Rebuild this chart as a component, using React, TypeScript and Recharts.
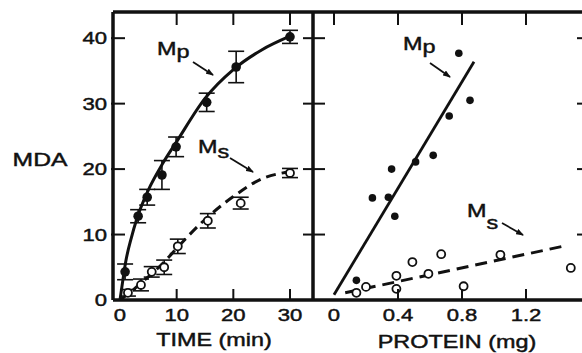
import { ComposedChart, Scatter, Line, XAxis, YAxis, ErrorBar, Label } from "recharts";

// axes
const timeTicks = [0, 10, 20, 30];
const mdaTicks = [0, 10, 20, 30, 40];
const proteinTicks = [0, 0.4, 0.8, 1.2];

// MDA vs time, Mp (filled) and Ms (open), with error bars
const mpTime = [0.9, 3.2, 4.8, 7.4, 9.9, 15.3, 20.5, 30];
const mpMda = [4.3, 12.8, 15.7, 19.1, 23.4, 30.2, 35.6, 40.2];
const mpErr = [1.2, 1.0, 1.2, 2.2, 1.5, 1.4, 2.4, 1.0];

const msTime = [1.4, 3.7, 5.6, 7.8, 10.2, 15.5, 21.3, 30];
const msMda = [1.1, 2.3, 4.3, 5.0, 8.2, 12.1, 14.8, 19.4];
const msErr = [0.5, 0.9, 0.8, 1.1, 1.1, 1.1, 0.9, 0.7];

// fitted curves
const mpFitTime = [0, 0.5, 1, 2, 3, 5, 7.5, 10, 15, 20, 25, 30];
const mpFitMda = [0, 3, 5.8, 9.5, 12.5, 16.8, 20.8, 24.2, 30.8, 35.2, 38.2, 40.3];
const msFitTime = [0, 2, 4, 6, 8, 10, 15, 20, 25, 30];
const msFitMda = [0, 1.3, 2.8, 4.3, 6.0, 7.9, 12.3, 15.8, 18.5, 19.6];

// MDA vs protein
const mpProtein = [0.14, 0.24, 0.34, 0.38, 0.36, 0.51, 0.62, 0.72, 0.78, 0.85];
const mpProteinMda = [3.0, 15.6, 15.7, 12.8, 20.0, 21.1, 22.1, 28.1, 37.7, 30.5];
const msProtein = [0.14, 0.2, 0.39, 0.39, 0.49, 0.59, 0.67, 0.81, 1.04, 1.48];
const msProteinMda = [1.1, 2.0, 3.7, 1.7, 5.8, 4.0, 7.0, 2.1, 6.9, 4.9];

const mpLineProtein = [0, 0.875];
const mpLineMda = [0.8, 36.4];
const msLineProtein = [0.07, 1.43];
const msLineMda = [1.1, 8.2];

const pts = (xs: number[], ys: number[], errs?: number[]) =>
  xs.map((x, i) => (errs ? { x, y: ys[i], err: errs[i] } : { x, y: ys[i] }));

const INK = "#111";
const FONT = "'Liberation Sans', Arial, sans-serif";
const STRETCH = 1.3; // scanned lettering is wider than Arial

function Stretched({ x, y, anchor = "middle", size = 17, children }: any) {
  return (
    <text
      transform={`translate(${x},${y}) scale(${STRETCH},1)`}
      textAnchor={anchor}
      fontSize={size}
      fontFamily={FONT}
      fill={INK}
      stroke={INK}
      strokeWidth={0.45}
    >
      {children}
    </text>
  );
}

const bottomTick = ({ x, y, payload }: any) => (
  <g>
    {payload.value !== 0 && <line x1={x} y1={y} x2={x} y2={y - 11} stroke={INK} strokeWidth={2} />}
    <Stretched x={x} y={y + 21}>{String(payload.value)}</Stretched>
  </g>
);

const topTick = (skipZero: boolean) => ({ x, y, payload }: any) =>
  skipZero && payload.value === 0 ? <g /> : (
    <line x1={x} y1={y} x2={x} y2={y + 13} stroke={INK} strokeWidth={2} />
  );

const leftTick = ({ x, y, payload }: any) => (
  <g>
    {payload.value !== 0 && <line x1={x - 2} y1={y} x2={x + 12} y2={y} stroke={INK} strokeWidth={2} />}
    <Stretched x={x - 6} y={y + 6} anchor="end">{String(payload.value)}</Stretched>
  </g>
);

const crossTick = ({ x, y, payload }: any) =>
  payload.value === 0 ? <g /> : <line x1={x - 10} y1={y} x2={x + 12} y2={y} stroke={INK} strokeWidth={2} />;

const rightTick = ({ x, y, payload }: any) =>
  payload.value === 0 ? <g /> : <line x1={x} y1={y} x2={x - 10} y2={y} stroke={INK} strokeWidth={2} />;

const filledDot = (r: number) => (p: any) => <circle cx={p.cx} cy={p.cy} r={r} fill={INK} />;
const openDot = (p: any) => <circle cx={p.cx} cy={p.cy} r={4} fill="#fff" stroke={INK} strokeWidth={1.8} />;

const border = { stroke: INK, strokeWidth: 3.5 };

// axes get 1px of room; at 0 Recharts skips drawing them
const axisBase = { type: "number" as const, dataKey: "x", allowDataOverflow: true, interval: 0 as const, tickSize: 0, tickMargin: 0, tickLine: false };

function Note({ x, y, sub, dy, arrow }: any) {
  const [x1, y1, x2, y2] = arrow;
  return (
    <g>
      <text transform={`translate(${x},${y}) scale(${STRETCH},1)`} fontSize={18} fontFamily={FONT} fill={INK} stroke={INK} strokeWidth={0.45}>
        M<tspan dy={dy}>{sub}</tspan>
      </text>
      <line x1={x1} y1={y1} x2={x2} y2={y2} stroke={INK} strokeWidth={1.8} markerEnd="url(#head)" />
    </g>
  );
}

export default function App() {
  return (
    <div style={{ position: "fixed", left: 0, top: 0, width: 582, height: 353, overflow: "hidden", background: "#fff" }}>
      <div style={{ position: "absolute", left: 0, top: 0 }}>
        <ComposedChart width={330} height={353} margin={{ top: 11, right: 17, bottom: 52, left: 112 }}>
          <XAxis {...axisBase} domain={[-1.235, 34.06]} ticks={timeTicks} height={1} axisLine={border} tick={bottomTick}>
            <Label content={({ viewBox }: any) => (
              <Stretched x={viewBox.x + viewBox.width / 2 + 1} y={viewBox.y + 46} size={18}>TIME (min)</Stretched>
            )} />
          </XAxis>
          <XAxis {...axisBase} xAxisId="top" orientation="top" domain={[-1.235, 34.06]} ticks={timeTicks} height={1} axisLine={border} tick={topTick(true)} />
          <YAxis {...axisBase} dataKey="y" domain={[0, 44]} ticks={mdaTicks} width={1} axisLine={border} tick={leftTick}>
            <Label content={({ viewBox }: any) => (
              <Stretched x={viewBox.x - 72} y={viewBox.y + viewBox.height / 2 + 10} size={19}>MDA</Stretched>
            )} />
          </YAxis>
          <Line data={pts(mpFitTime, mpFitMda)} dataKey="y" type="monotone" stroke={INK} strokeWidth={3} dot={false} isAnimationActive={false} />
          <Line data={pts(msFitTime, msFitMda)} dataKey="y" type="monotone" stroke={INK} strokeWidth={3} strokeDasharray="10 6" dot={false} isAnimationActive={false} />
          <Scatter data={pts(mpTime, mpMda, mpErr)} dataKey="y" shape={filledDot(4.8)} isAnimationActive={false}>
            <ErrorBar dataKey="err" direction="y" width={8} stroke={INK} strokeWidth={1.6} />
          </Scatter>
          <Scatter data={pts(msTime, msMda, msErr)} dataKey="y" shape={openDot} isAnimationActive={false}>
            <ErrorBar dataKey="err" direction="y" width={8} stroke={INK} strokeWidth={1.6} />
          </Scatter>
        </ComposedChart>
      </div>

      <div style={{ position: "absolute", left: 0, top: 0 }}>
        <ComposedChart width={600} height={353} margin={{ top: 11, right: 12, bottom: 52, left: 312 }}>
          <XAxis {...axisBase} domain={[-0.13125, 1.58125]} ticks={proteinTicks} height={1} axisLine={border} tick={bottomTick}>
            <Label content={({ viewBox }: any) => (
              <Stretched x={457} y={viewBox.y + 48} size={18}>PROTEIN (mg)</Stretched>
            )} />
          </XAxis>
          <XAxis {...axisBase} xAxisId="top" orientation="top" domain={[-0.13125, 1.58125]} ticks={proteinTicks} height={1} axisLine={border} tick={topTick(false)} />
          <YAxis {...axisBase} dataKey="y" domain={[0, 44]} ticks={mdaTicks} width={1} axisLine={border} tick={crossTick} />
          <YAxis {...axisBase} yAxisId="r" orientation="right" dataKey="y" domain={[0, 44]} ticks={mdaTicks} width={1} axisLine={false} tick={rightTick} />
          <Line data={pts(mpLineProtein, mpLineMda)} dataKey="y" type="linear" stroke={INK} strokeWidth={2.8} dot={false} isAnimationActive={false} />
          <Line data={pts(msLineProtein, msLineMda)} dataKey="y" type="linear" stroke={INK} strokeWidth={3} strokeDasharray="12 7" dot={false} isAnimationActive={false} />
          <Scatter data={pts(mpProtein, mpProteinMda)} dataKey="y" shape={filledDot(3.8)} isAnimationActive={false} />
          <Scatter data={pts(msProtein, msProteinMda)} dataKey="y" shape={openDot} isAnimationActive={false} />
        </ComposedChart>
      </div>

      <svg width={582} height={353} style={{ position: "absolute", left: 0, top: 0, pointerEvents: "none" }}>
        <defs>
          <marker id="head" markerWidth="8" markerHeight="6" refX="7" refY="3" orient="auto" markerUnits="userSpaceOnUse">
            <path d="M0,0 L8,3 L0,6 z" fill={INK} />
          </marker>
        </defs>
        <Note x={157} y={55} sub="p" dy={3} arrow={[193, 62, 213, 75]} />
        <Note x={198} y={153} sub="s" dy={5} arrow={[230, 158, 253, 172]} />
        <Note x={403} y={50} sub="p" dy={3} arrow={[430, 63, 450, 77]} />
        <Note x={467} y={217} sub="s" dy={12} arrow={[502, 223, 523, 235]} />
      </svg>
    </div>
  );
}
